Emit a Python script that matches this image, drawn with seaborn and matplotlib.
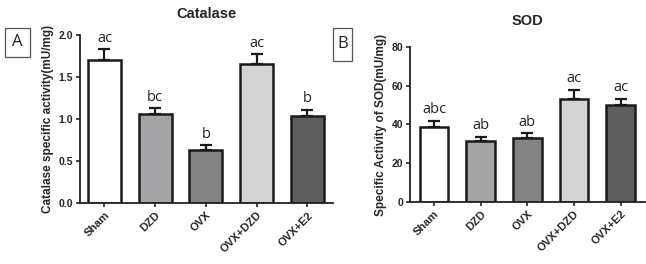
import pandas as pd
import matplotlib
matplotlib.use('Agg')
import matplotlib.pyplot as plt
import seaborn as sns
from matplotlib.patches import Rectangle

groups = ['Sham', 'DZD', 'OVX', 'OVX+DZD', 'OVX+E2']
bar_colors = ['#ffffff', '#a3a3a8', '#838383', '#d4d4d4', '#5e5e5e']

catalase_mean = [1.70, 1.06, 0.63, 1.66, 1.04]
catalase_err = [0.13, 0.07, 0.06, 0.11, 0.07]
catalase_sig = ['ac', 'bc', 'b', 'ac', 'b']

sod_mean = [38.5, 31.7, 33.0, 53.2, 50.0]
sod_err = [3.5, 2.0, 2.6, 4.8, 3.4]
sod_sig = ['abc', 'ab', 'ab', 'ac', 'ac']

sns.set_style('ticks')
plt.rcParams['font.family'] = ['Liberation Sans', 'DejaVu Sans']


def draw_panel(ax, means, errs, sigs, title, ylabel, yticks, ytick_labels, ymax,
               xlim, width, title_pad):
    df = pd.DataFrame({'group': groups, 'value': means})
    sns.barplot(data=df, x='group', y='value', hue='group', palette=bar_colors,
                edgecolor='#1a1a1a', linewidth=1.8, width=width, errorbar=None,
                legend=False, ax=ax)
    ax.errorbar(range(len(groups)), means, yerr=[[0] * len(errs), errs], fmt='none',
                ecolor='#1a1a1a', elinewidth=1.6, capsize=4.5, capthick=1.6)
    for i, (m, e, s) in enumerate(zip(means, errs, sigs)):
        ax.annotate(s, (i, m + e), xytext=(0, 2.5), textcoords='offset points',
                    ha='center', va='bottom', fontsize=10.5, family='Open Sans',
                    color='#222222')
    ax.set_ylim(0, ymax)
    ax.set_xlim(*xlim)
    ax.set_yticks(yticks)
    ax.set_yticklabels(ytick_labels, fontweight='bold')
    ax.set_title(title, fontsize=10.5, fontweight='bold', pad=title_pad)
    ax.set_ylabel(ylabel, fontsize=8.5, fontweight='bold', labelpad=3)
    ax.set_xlabel('')
    ax.tick_params(axis='y', labelsize=7.5, length=3, width=1.2, pad=2)
    ax.tick_params(axis='x', labelsize=8, length=3, width=1.2, pad=2)
    for lab in ax.get_xticklabels():
        lab.set_fontweight('bold')
        lab.set_rotation(45)
        lab.set_ha('right')
        lab.set_rotation_mode('anchor')
    for sp in ['left', 'bottom']:
        ax.spines[sp].set_linewidth(1.3)
        ax.spines[sp].set_color('#222222')
    sns.despine(ax=ax)


fig = plt.figure(figsize=(6.46, 2.64), dpi=100)
ax1 = fig.add_axes([0.124, 0.231, 0.392, 0.636])
ax2 = fig.add_axes([0.635, 0.235, 0.364, 0.587])

draw_panel(ax1, catalase_mean, catalase_err, catalase_sig, 'Catalase',
           'Catalase specific activity(mU/mg)', [0, 0.5, 1.0, 1.5, 2.0],
           ['0.0', '0.5', '1.0', '1.5', '2.0'], 2.0, (-0.48, 4.51), 0.65, 12)
draw_panel(ax2, sod_mean, sod_err, sod_sig, 'SOD',
           'Specific Activity of SOD(mU/mg)', [0, 20, 40, 60, 80],
           ['0', '20', '40', '60', '80'], 80, (-0.51, 4.53), 0.61, 16)

# panel letters in boxes
for x0, y0, w, h, letter in [(5, 28, 25, 29, 'A'), (333, 28, 19, 33, 'B')]:
    fig.patches.append(Rectangle((x0 / 646, 1 - (y0 + h) / 264), w / 646, h / 264,
                                 transform=fig.transFigure, fill=False,
                                 edgecolor='#555555', linewidth=0.9))
    fig.text((x0 + w / 2) / 646, 1 - (y0 + h / 2) / 264, letter, ha='center', va='center',
             fontsize=12, family='Open Sans', color='#222222')

fig.savefig('out.png', dpi=100)
